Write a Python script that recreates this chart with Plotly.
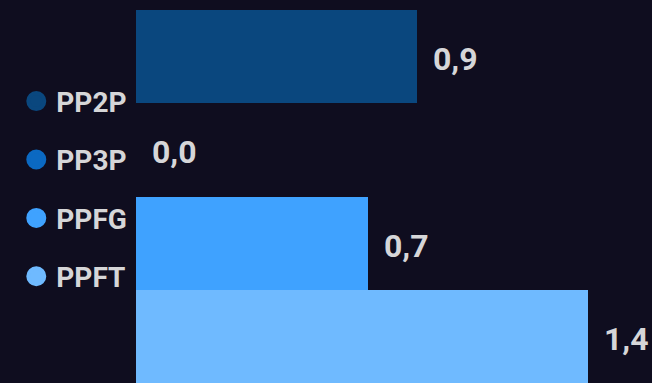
import plotly.graph_objects as go

categories = ["PP2P", "PP3P", "PPFG", "PPFT"]
values = [0.87, 0.0, 0.72, 1.40]
colors = ["#0a477e", "#0b69c2", "#3fa2ff", "#6fbaff"]

FONT = "Roboto, sans-serif"
TEXT_COLOR = "#d6d6d8"
BG = "#0f0d1f"

fig = go.Figure()
for cat, val, col in zip(categories, values, colors):
    fig.add_trace(go.Bar(
        x=[val], y=[cat], orientation="h", name=cat,
        marker=dict(color=col, line=dict(width=0)),
        showlegend=False, hoverinfo="skip",
    ))
for i, (cat, col) in enumerate(zip(categories, colors)):
    fig.add_trace(go.Scatter(
        x=[None], y=[None], mode="markers", name=cat,
        marker=dict(color=col, size=16, symbol="circle", line=dict(color=col, width=4)),
        legendgroup=f"g{i}", showlegend=True,
    ))

annotations = []
for cat, val in zip(categories, values):
    annotations.append(dict(
        x=val, y=cat, xref="x", yref="y", text=f"{val:.1f}".replace(".", ","),
        showarrow=False, xanchor="left", yanchor="middle", xshift=14, yshift=-2.5,
        font=dict(family=FONT, size=32, color=TEXT_COLOR, weight="bold"),
    ))

fig.update_layout(
    width=652, height=383,
    margin=dict(l=136, r=0, t=10, b=0),
    paper_bgcolor=BG, plot_bgcolor=BG,
    barmode="overlay", bargap=0,
    xaxis=dict(range=[0, 1.598], visible=False, fixedrange=True),
    yaxis=dict(categoryorder="array", categoryarray=categories,
               visible=False, range=[3.5, -0.5], fixedrange=True),
    legend=dict(
        x=-0.232, xanchor="left", y=0.822, yanchor="top",
        font=dict(family=FONT, size=28, color=TEXT_COLOR, weight="bold"),
        tracegroupgap=19, bgcolor="rgba(0,0,0,0)", itemsizing="trace",
    ),
    annotations=annotations,
    showlegend=True,
    hovermode=False,
)

fig.write_html(
    "out.html",
    config={"displayModeBar": False},
    post_script="document.body.style.margin='0';document.body.style.background='%s';" % BG,
)
